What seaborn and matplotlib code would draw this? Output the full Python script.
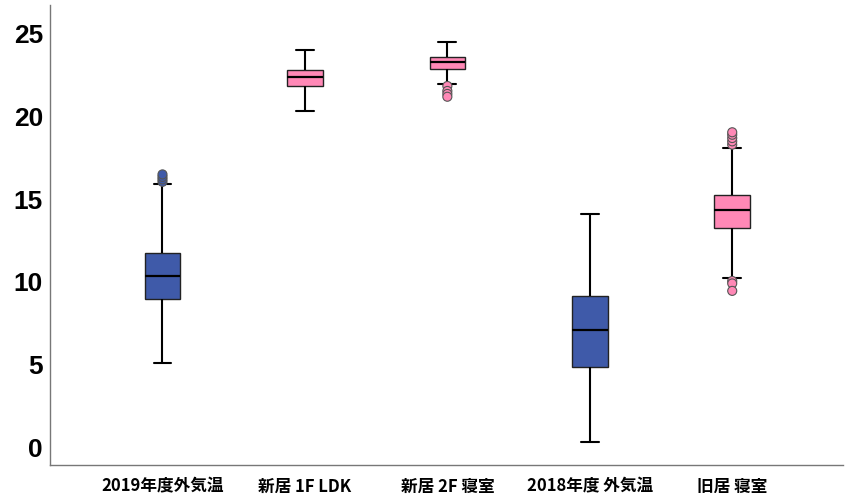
import matplotlib
matplotlib.use("Agg")
import matplotlib.pyplot as plt
import seaborn as sns
import pandas as pd

categories = ["2019年度外気温", "新居 1F LDK", "新居 2F 寝室", "2018年度 外気温", "旧居 寝室"]
colors = ["#3f5aa9", "#ff88b6", "#ff88b6", "#3f5aa9", "#ff88b6"]
whis_lo = [5.08, 20.35, 21.97, 0.30, 10.20]
q1 = [8.96, 21.85, 22.90, 4.84, 13.26]
median = [10.35, 22.40, 23.30, 7.08, 14.35]
q3 = [11.74, 22.80, 23.60, 9.14, 15.25]
whis_hi = [15.92, 24.05, 24.50, 14.10, 18.10]
outliers = [
    [16.05, 16.20, 16.35, 16.50],
    [],
    [21.85, 21.55, 21.37, 21.20],
    [],
    [18.30, 18.50, 18.70, 18.90, 19.05, 10.05, 9.90, 9.45],
]

# a 7-point set per box gives exactly these quartiles (linear interpolation)
rows = []
for i, cat in enumerate(categories):
    for v in [whis_lo[i], q1[i], q1[i], median[i], q3[i], q3[i], whis_hi[i]]:
        rows.append({"cat": cat, "temp": v})
df = pd.DataFrame(rows)
out_df = pd.DataFrame([{"cat": c, "temp": v}
                       for c, vals in zip(categories, outliers) for v in vals])

sns.set_style("white")
plt.rcParams["font.family"] = ["Noto Sans CJK JP", "DejaVu Sans"]

fig = plt.figure(figsize=(8.54, 5.04), dpi=100)
ax = fig.add_axes([0.0585, 0.077, 0.929, 0.913])

pal = dict(zip(categories, colors))
sns.boxplot(data=df, x="cat", y="temp", hue="cat", order=categories,
            palette=pal, legend=False, width=0.25, whis=(0, 100),
            showfliers=False, linecolor="#222222", linewidth=1.0,
            saturation=1, ax=ax,
            medianprops={"color": "black", "linewidth": 1.6},
            whiskerprops={"color": "black", "linewidth": 1.5},
            capprops={"color": "black", "linewidth": 1.5})
sns.stripplot(data=out_df, x="cat", y="temp", hue="cat", order=categories,
              palette=pal, legend=False, jitter=False, size=6.5,
              edgecolor="#555555", linewidth=0.8, ax=ax)

ax.set_ylim(-1.1, 26.75)
ax.set_xlim(-0.79, 4.78)
ax.set_yticks([0, 5, 10, 15, 20, 25])
ax.set_xlabel("")
ax.set_ylabel("")
for lab in ax.get_yticklabels():
    lab.set_family(["Liberation Sans", "DejaVu Sans"])
    lab.set_fontweight("bold")
    lab.set_fontsize(19)
for lab in ax.get_xticklabels():
    lab.set_fontweight("bold")
    lab.set_fontsize(12)
ax.tick_params(axis="both", length=0, labelcolor="black")
ax.tick_params(axis="x", pad=9)
ax.tick_params(axis="y", pad=5)

sns.despine(ax=ax)
for side in ["left", "bottom"]:
    ax.spines[side].set_color("#777777")
    ax.spines[side].set_linewidth(1.0)

fig.savefig("out.png", dpi=100)
